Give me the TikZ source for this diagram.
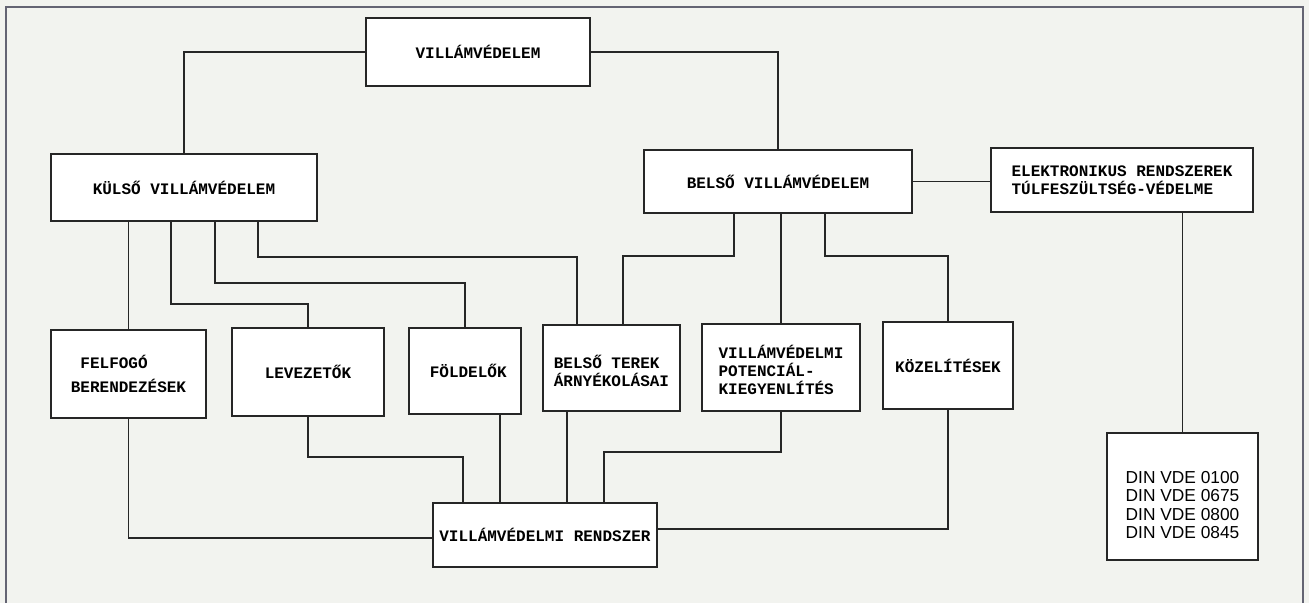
\documentclass[tikz,border=0pt]{standalone}
\usepackage{fontspec}
\setmonofont{Liberation Mono}
\setsansfont{Liberation Sans}
\definecolor{paper}{RGB}{242,243,239}
\definecolor{ink}{RGB}{38,38,38}
\definecolor{framecol}{RGB}{100,100,115}
\usetikzlibrary{calc}

\begin{document}
\begin{tikzpicture}[x=0.75pt, y=-0.75pt,
  blk/.style={draw=ink, line width=1.6pt, fill=white, inner sep=0pt, align=center,
    font=\ttfamily\bfseries\fontsize{12}{13.5}\selectfont},
  normbox/.style={blk, align=left, font=\sffamily\fontsize{13}{13.8}\selectfont},
  wire/.style={draw=ink, line width=1pt}
]
  \fill[paper] (0,0) rectangle (1309,603);
  \useasboundingbox (0,0) rectangle (1309,603);
  \draw[framecol, line width=1.5pt] (6,603) -- (6,7) -- (1303,7) -- (1303,603);

  % upper levels
  \node[blk, minimum width=168pt, minimum height=51pt] (top) at (478,52) {VILLÁMVÉDELEM};
  \node[blk, minimum width=199.5pt, minimum height=50.25pt] (ext) at (184,187.5) {KÜLSŐ VILLÁMVÉDELEM};
  \node[blk, minimum width=201pt, minimum height=47.25pt] (int) at (778,181.5) {BELSŐ VILLÁMVÉDELEM};
  \node[blk, align=left, minimum width=196.5pt, minimum height=48pt] (elek) at (1122,180) {ELEKTRONIKUS RENDSZEREK\\TÚLFESZÜLTSÉG-VÉDELME};

  % parts
  \node[blk, align=left, minimum width=116.25pt, minimum height=66pt] (felfogo) at (128.5,374) {\hspace{0.6em}FELFOGÓ\\[4pt]BERENDEZÉSEK};
  \node[blk, minimum width=114pt, minimum height=66pt] (levez) at (308,372) {LEVEZETŐK};
  \node[blk, minimum width=84pt, minimum height=64.5pt] (foldel) at (465,371) {\hspace{0.4em}FÖLDELŐK};
  \node[blk, align=left, minimum width=102.75pt, minimum height=64.5pt] (arny) at (611.5,368) {\rule{0pt}{14pt}BELSŐ TEREK\\ÁRNYÉKOLÁSAI};
  \node[blk, align=left, minimum width=118.5pt, minimum height=65.25pt] (potki) at (781,367.5) {\rule{0pt}{14pt}VILLÁMVÉDELMI\\POTENCIÁL-\\KIEGYENLÍTÉS};
  \node[blk, minimum width=97.5pt, minimum height=65.25pt] (kozel) at (948,365.5) {KÖZELÍTÉSEK};

  % bottom
  \node[blk, minimum width=168pt, minimum height=48pt] (rendszer) at (545,535) {VILLÁMVÉDELMI RENDSZER};
  \node[normbox, minimum width=113.25pt, minimum height=95.25pt] (din) at (1182.5,496.5) {\rule{0pt}{22pt}DIN VDE 0100\\DIN VDE 0675\\DIN VDE 0800\\DIN VDE 0845};

  \draw[wire] (top.west) -| (ext.north);
  \draw[wire] (top.east) -| (int.north);
  \draw[wire] (int.east) -- (int.east -| elek.west);
  \draw[wire] (din.north |- elek.south) -- (din.north);

  \draw[wire] (felfogo.north |- ext.south) -- (felfogo.north);
  \draw[wire] ($(ext.south)+(-13,0)$) |- ($(levez.north)+(0,-23)$) -- (levez.north);
  \draw[wire] ($(ext.south)+(31,0)$) |- ($(foldel.north)+(0,-44)$) -- (foldel.north);
  \draw[wire] ($(ext.south)+(74,0)$) |- ($(arny.north)+(-34.5,-67)$) -- ($(arny.north)+(-34.5,0)$);

  \draw[wire] ($(int.south)+(-44,0)$) |- ($(arny.north)+(11.5,-68)$) -- ($(arny.north)+(11.5,0)$);
  \draw[wire] (potki.north |- int.south) -- (potki.north);
  \draw[wire] ($(int.south)+(47,0)$) |- ($(kozel.north)+(0,-65)$) -- (kozel.north);

  \draw[wire] (felfogo.south) |- ($(rendszer.west)+(0,3)$);
  \draw[wire] (levez.south) |- ($(rendszer.north)+(-82,-45)$) -- ($(rendszer.north)+(-82,0)$);
  \draw[wire] ($(foldel.south)+(35,0)$) -- ($(rendszer.north)+(-45,0)$);
  \draw[wire] ($(arny.south)+(-44.5,0)$) -- ($(rendszer.north)+(22,0)$);
  \draw[wire] (potki.south) |- ($(rendszer.north)+(59,-50)$) -- ($(rendszer.north)+(59,0)$);
  \draw[wire] (kozel.south) |- ($(rendszer.east)+(0,-6)$);
\end{tikzpicture}
\end{document}
